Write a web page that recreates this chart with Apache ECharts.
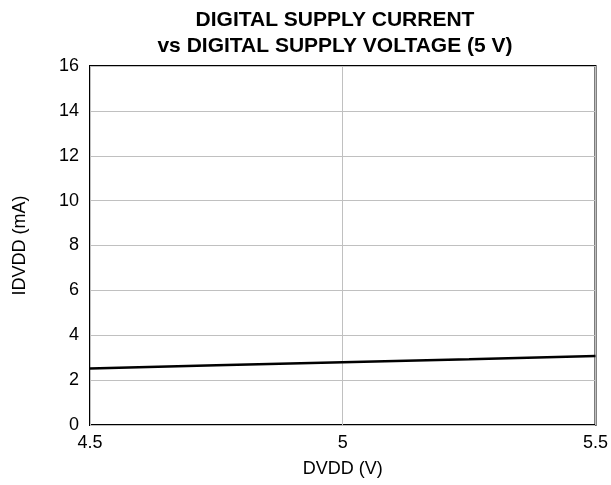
<!DOCTYPE html>
<html><head><meta charset="utf-8">
<script src="https://cdn.jsdelivr.net/npm/echarts@6/dist/echarts.min.js"></script>
<style>html,body{margin:0;padding:0;background:#fff}#c{width:611px;height:485px}</style>
</head><body><div id="c"></div>
<script>
const titleLines = ['DIGITAL SUPPLY CURRENT', 'vs DIGITAL SUPPLY VOLTAGE (5 V)'];
const xName = 'DVDD (V)';
const yName = 'IDVDD (mA)';
const dvdd = [4.5, 4.75, 5, 5.25, 5.5];
const idvdd = [2.52, 2.66, 2.8, 2.93, 3.07];
const xTicks = [4.5, 5, 5.5];
const yTicks = [0, 2, 4, 6, 8, 10, 12, 14, 16];

const font = 'Liberation Sans, Arial, sans-serif';
const chart = echarts.init(document.getElementById('c'), null, {renderer: 'canvas'});
chart.setOption({
  animation: false,
  backgroundColor: '#fff',
  title: {
    text: titleLines.join('\n'), left: 330, top: 2, textAlign: 'center',
    textStyle: {fontFamily: font, fontWeight: 'bold', fontSize: 21, color: '#000', lineHeight: 26}
  },
  grid: {left: 90, right: 14, top: 66, bottom: 60, show: true, borderColor: '#000', borderWidth: 2, backgroundColor: 'transparent'},
  xAxis: {
    type: 'value', min: xTicks[0], max: xTicks[xTicks.length - 1], interval: 0.5,
    name: xName, nameLocation: 'middle', nameGap: 35,
    nameTextStyle: {fontFamily: font, fontSize: 18, color: '#000'},
    axisLine: {show: false}, axisTick: {show: false},
    axisLabel: {fontFamily: font, fontSize: 18, color: '#000', margin: 9, formatter: v => String(v)},
    splitLine: {show: true, lineStyle: {color: '#c0c0c0', width: 1}}
  },
  yAxis: {
    type: 'value', min: yTicks[0], max: yTicks[yTicks.length - 1], interval: 2,
    name: yName, nameLocation: 'middle', nameGap: 61,
    nameTextStyle: {fontFamily: font, fontSize: 18, color: '#000'},
    axisLine: {show: false}, axisTick: {show: false},
    axisLabel: {fontFamily: font, fontSize: 18, color: '#000', margin: 11},
    splitLine: {show: true, lineStyle: {color: '#c0c0c0', width: 1}}
  },
  series: [{
    type: 'line', data: dvdd.map((x, i) => [x, idvdd[i]]),
    showSymbol: false, lineStyle: {color: '#000', width: 2.5}, z: 5
  }]
});
</script></body></html>
